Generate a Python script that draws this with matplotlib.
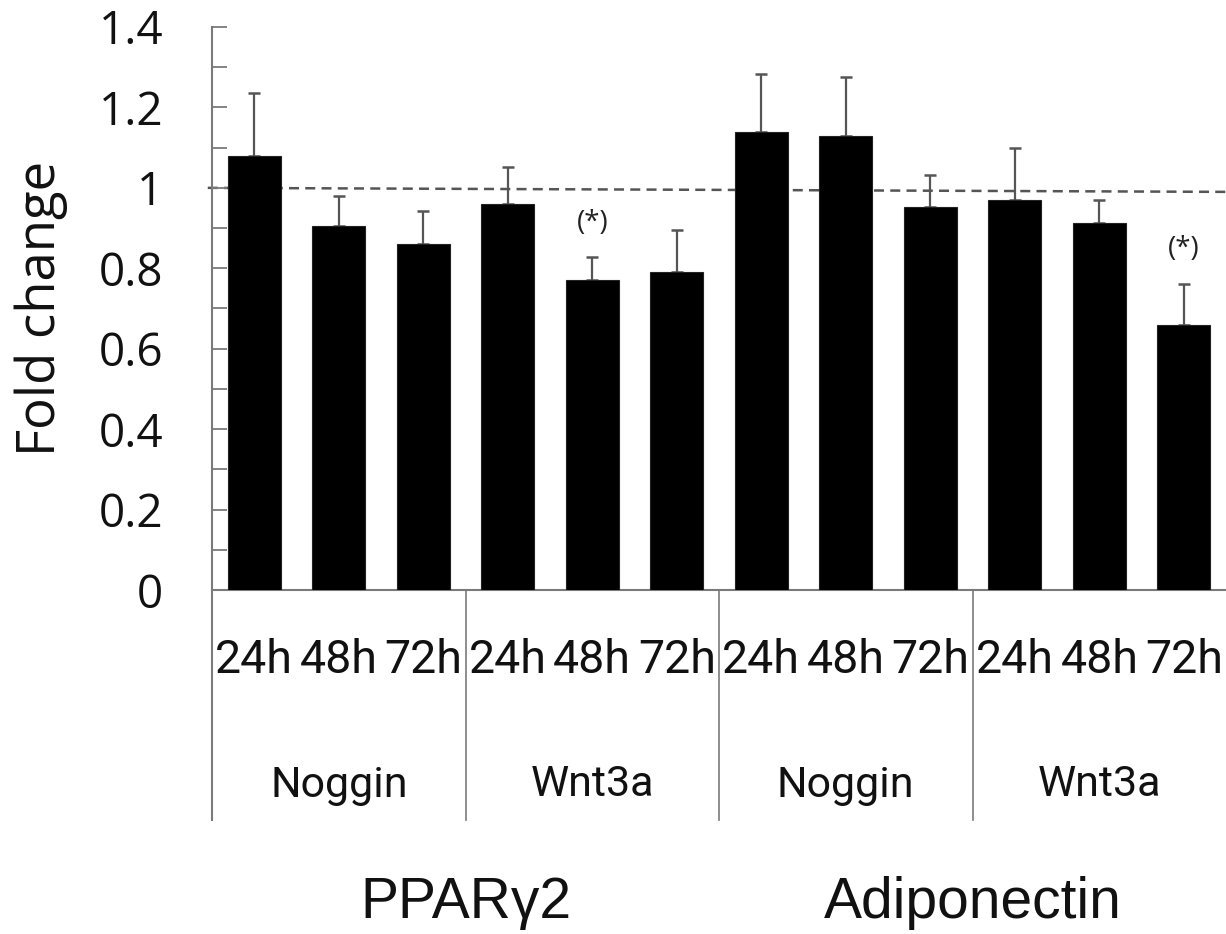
import matplotlib
matplotlib.use("Agg")
import matplotlib.pyplot as plt
import matplotlib.transforms as mtransforms
import numpy as np

# ---- data ----
hours = ["24h", "48h", "72h"]
treatments = ["Noggin", "Wnt3a", "Noggin", "Wnt3a"]
genes = ["PPAR\u03b32", "Adiponectin"]
values = [1.08, 0.905, 0.86, 0.96, 0.77, 0.79,
          1.14, 1.13, 0.953, 0.97, 0.913, 0.659]
errors = [0.155, 0.075, 0.083, 0.092, 0.057, 0.104,
          0.142, 0.145, 0.079, 0.130, 0.057, 0.102]
significant = [False, False, False, False, True, False,
               False, False, False, False, False, True]
ref_line = [1.0, 0.99]
yticks_major = [0, 0.2, 0.4, 0.6, 0.8, 1.0, 1.2, 1.4]
ytick_labels = ["0", "0.2", "0.4", "0.6", "0.8", "1", "1.2", "1.4"]

W, H = 1226, 934
fig = plt.figure(figsize=(W / 100, H / 100), dpi=100)
ax_l, ax_r, ax_b, ax_t = 212, 1226, 590, 27
ax = fig.add_axes([ax_l / W, 1 - ax_b / H, (ax_r - ax_l) / W, (ax_b - ax_t) / H])

n = len(values)
x = np.arange(n)
axis_col = "#7a7a7a"
err_col = "#555555"
txt_col = "#111111"

ax.bar(x, values, width=0.63, color="black", edgecolor="#222222", linewidth=0.8, zorder=3)
ax.errorbar(x, values, yerr=[np.zeros(n), errors], fmt="none", ecolor=err_col,
            elinewidth=1.6, capsize=4, capthick=1.8, zorder=2)

ax.plot([-0.55, n - 0.5], ref_line, ls=(0, (4, 2.5)), color=err_col, lw=1.8, zorder=1,
        clip_on=False)

for xi, v, e, s in zip(x, values, errors, significant):
    if s:
        ax.annotate("(*)", (xi, v + e), xytext=(0, 15), textcoords="offset points",
                    ha="center", va="bottom", fontsize=20, family="Open Sans",
                    color="#222222")

ax.set_xlim(-0.5, n - 0.5)
ax.set_ylim(0, 1.4)
for sp in ["top", "right", "left", "bottom"]:
    ax.spines[sp].set_visible(False)

ax.set_yticks(yticks_major)
ax.set_yticklabels(ytick_labels, family="Open Sans", fontsize=33, color=txt_col)
ax.set_yticks(np.arange(0.1, 1.4, 0.2), minor=True)
ax.tick_params(axis="y", which="both", direction="in", length=11, width=1.3,
               color=axis_col, pad=35)
ax.set_xticks([])
ax.set_ylabel("Fold change", family="Open Sans", fontsize=38, color=txt_col, labelpad=22)

trans = mtransforms.blended_transform_factory(ax.transData, ax.transAxes)
ax_h = ax_b - ax_t
def frac(py):
    return -(py - ax_b) / ax_h

bottom_frac = frac(820)
# left axis line (extends below)
ax.plot([-0.5, -0.5], [bottom_frac, 1.0], transform=trans, color=axis_col, lw=1.5, clip_on=False)
# bottom line
ax.plot([-0.5, n - 0.5], [0, 0], transform=trans, color=axis_col, lw=1.5, clip_on=False)
# dividers
for d in [2.5, 5.5, 8.5]:
    ax.plot([d, d], [bottom_frac, 0], transform=trans, color=axis_col, lw=1.2, clip_on=False)

for i, xi in enumerate(x):
    ax.text(xi, frac(660), hours[i % 3], transform=trans, ha="center", va="center",
            family="Roboto", fontsize=33.5, color=txt_col)
for g, t in enumerate(treatments):
    ax.text(3 * g + 1, frac(785), t, transform=trans, ha="center", va="center",
            family="Roboto", fontsize=31, color=txt_col)
for k, gname in enumerate(genes):
    ax.text(6 * k + 2.5, frac(903), gname, transform=trans, ha="center", va="center",
            family="Liberation Sans", fontsize=41, color=txt_col)

fig.savefig("out.png", dpi=100)
